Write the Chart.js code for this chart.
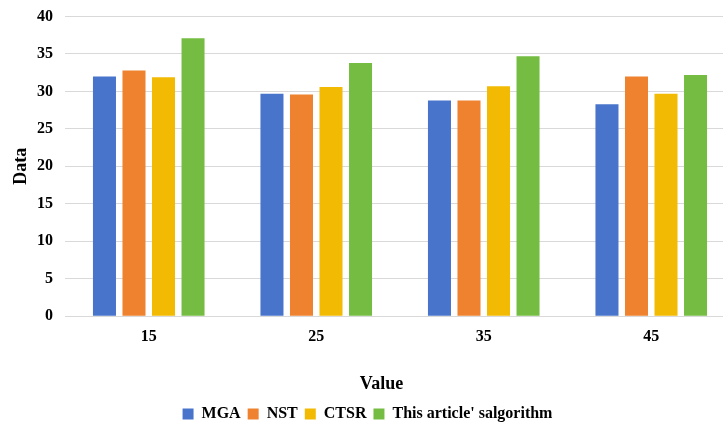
<!DOCTYPE html>
<html>
<head>
<meta charset="utf-8">
<script src="https://cdn.jsdelivr.net/npm/chart.js@4/dist/chart.umd.min.js"></script>
<style>
  html, body { margin: 0; padding: 0; background: #fff; overflow: hidden; }
  #wrap { width: 745px; height: 427px; }
</style>
</head>
<body>
<div id="wrap"><canvas id="c" width="745" height="427"></canvas></div>
<script>
// Categories along the x axis
const categories = ['15', '25', '35', '45'];

// Series values
const mgaValues  = [32.0, 29.7, 28.8, 28.3];
const nstValues  = [32.8, 29.6, 28.8, 32.0];
const ctsrValues = [31.9, 30.6, 30.7, 29.7];
const oursValues = [37.1, 33.8, 34.7, 32.2];

// Series names
const seriesNames = ['MGA', 'NST', 'CTSR', "This article' salgorithm"];

// Y axis range
const yMin = 0;
const yMax = 40;
const yStep = 5;

const colors = ['#4874CB', '#EE822F', '#F2BA02', '#75BD42'];
const serif = "'Liberation Serif', 'Times New Roman', serif";

const seriesValues = [mgaValues, nstValues, ctsrValues, oursValues];
const datasets = seriesValues.map((vals, i) => ({
  label: seriesNames[i],
  data: vals,
  backgroundColor: colors[i],
  borderWidth: 0,
  categoryPercentage: 0.705,
  barPercentage: 0.78
}));

// Nudge the bottom "Value" title a little to the right of the legend centre
const titleShift = {
  id: 'titleShift',
  afterLayout(chart) {
    if (chart.titleBlock) chart.titleBlock.left += 28;
  }
};

new Chart(document.getElementById('c'), {
  type: 'bar',
  data: { labels: categories, datasets },
  plugins: [titleShift],
  options: {
    responsive: false,
    animation: false,
    layout: { padding: { left: 0, right: 10, top: 16.5, bottom: -5 } },
    plugins: {
      tooltip: { enabled: false },
      title: {
        display: true,
        text: 'Value',
        position: 'bottom',
        weight: 500,
        color: '#000',
        font: { family: serif, size: 18, weight: 'bold' },
        padding: { top: 16, bottom: 4 }
      },
      legend: {
        display: true,
        position: 'bottom',
        labels: {
          color: '#000',
          font: { family: serif, size: 16, weight: 'bold' },
          boxWidth: 11,
          boxHeight: 11,
          padding: 7
        }
      }
    },
    scales: {
      x: {
        grid: { display: false, drawTicks: false },
        border: { display: true, color: '#D9D9D9', width: 1 },
        ticks: {
          color: '#000',
          padding: 11,
          font: { family: serif, size: 16, weight: 'bold' }
        }
      },
      y: {
        min: yMin,
        max: yMax,
        afterFit(scale) {
          scale.width = 65;
          scale.paddingTop = 0;
          scale.paddingBottom = 0;
        },
        ticks: {
          stepSize: yStep,
          color: '#000',
          padding: 12,
          font: { family: serif, size: 16, weight: 'bold' }
        },
        grid: { color: '#D9D9D9', lineWidth: 1, drawTicks: false },
        border: { display: false },
        title: {
          display: true,
          text: 'Data',
          color: '#000',
          font: { family: serif, size: 18, weight: 'bold' },
          padding: { top: 11, bottom: 4 }
        }
      }
    }
  }
});
</script>
</body>
</html>
